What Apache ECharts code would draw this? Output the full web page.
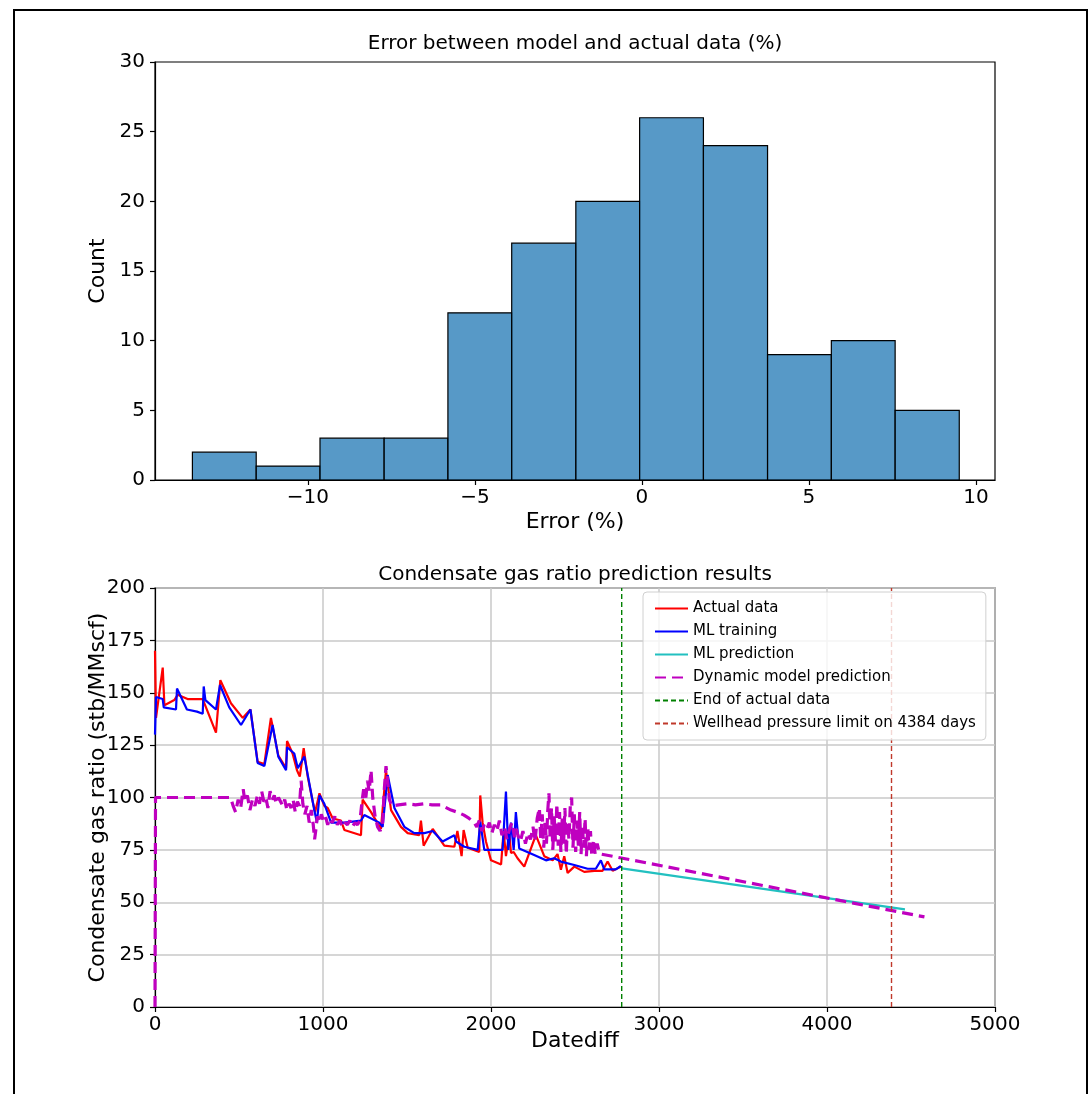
<!DOCTYPE html>
<html lang="en">

<head>
    <meta charset="UTF-8">
    <title>Error histogram and CGR prediction</title>
    <style>
        html,
        body {
            margin: 0;
            padding: 0;
            background: #fff;
        }

        #chart {
            width: 1092px;
            height: 1094px;
        }
    </style>
</head>

<body>
    <div id="chart"></div>
    <script src="https://cdn.jsdelivr.net/npm/echarts@6/dist/echarts.min.js"></script>
    <script type="text/javascript">
        // ---- histogram of model error (%) ----
        var errorBinEdges = [-13.46, -11.55, -9.64, -7.72, -5.81, -3.90, -1.98, -0.07, 1.84, 3.76, 5.67, 7.58, 9.50];
        var errorCounts = [2, 1, 3, 3, 12, 17, 20, 26, 24, 9, 10, 5];
        var errorTicks = [-10, -5, 0, 5, 10];

        // ---- condensate gas ratio, [Datediff, stb/MMscf] ----
        var actualData = [
            [0, 170], [6, 138], [46, 162], [56, 144], [115, 146.5], [135, 149], [194, 147], [284, 147],
            [363, 131], [389, 156], [452, 145], [522, 138], [568, 142], [611, 117], [651, 116], [690, 138],
            [734, 120], [780, 114], [786, 127], [819, 121], [845, 113], [862, 110], [885, 123.5], [909, 110],
            [939, 98], [953, 93], [979, 102], [1008, 96], [1028, 95], [1058, 90], [1107, 89], [1127, 84.5],
            [1226, 82], [1236, 99], [1286, 93], [1345, 85], [1375, 113], [1405, 94], [1464, 86], [1504, 83],
            [1573, 82], [1583, 89], [1599, 77], [1653, 85], [1722, 77], [1782, 76.5], [1800, 84], [1825, 72],
            [1837, 84.5], [1861, 76], [1930, 74], [1936, 101], [1950, 88], [1970, 79], [2000, 70], [2060, 68],
            [2075, 84], [2089, 72], [2109, 83], [2119, 73.5], [2135, 74], [2158, 71], [2198, 67], [2267, 82],
            [2317, 72], [2367, 70], [2396, 73], [2416, 65.5], [2436, 72], [2456, 64], [2496, 67], [2555, 64.5],
            [2615, 65], [2664, 65], [2694, 69.5], [2724, 65], [2773, 67]
        ];
        var mlTraining = [
            [0, 130], [6, 148], [46, 147], [52, 143], [125, 142], [131, 152], [190, 142], [250, 141], [284, 140],
            [290, 153], [300, 146.5], [363, 142], [387, 153.7], [442, 143], [512, 134.6], [568, 142], [611, 116.5],
            [651, 115], [700, 134.6], [734, 119.5], [780, 113], [786, 124], [829, 121], [850, 114], [889, 119.5],
            [948, 94], [964, 88], [979, 101], [1008, 97], [1048, 88], [1127, 88], [1226, 89], [1246, 91.6],
            [1335, 88], [1355, 86], [1385, 110.7], [1425, 95], [1484, 86], [1543, 83], [1603, 83], [1653, 84],
            [1712, 79], [1782, 82], [1792, 79], [1841, 76.5], [1921, 75], [1936, 88.5], [1960, 75], [2069, 75],
            [2089, 102.8], [2103, 75], [2119, 88], [2135, 75], [2148, 93], [2168, 75.7], [2257, 72.6], [2327, 70],
            [2376, 71], [2416, 69.4], [2496, 67.8], [2575, 66], [2624, 66], [2654, 70], [2674, 65.7], [2743, 65.7],
            [2773, 67.3]
        ];
        var mlPrediction = [[2778, 66.2], [4464, 46.6]];
        var dynamicModel = [
            [0, 0], [3, 100], [200, 100], [450, 100], [465, 96], [480, 93], [495, 99], [510, 95], [525, 104],
            [535, 98], [550, 101], [565, 94], [580, 99], [595, 96], [610, 101], [622, 97], [635, 103], [648, 98],
            [660, 100], [672, 95], [685, 103], [698, 99], [710, 101], [722, 97], [735, 100], [748, 98], [760, 96],
            [772, 99], [785, 94], [798, 97], [810, 95], [822, 99], [835, 93], [848, 98], [860, 96], [870, 108],
            [880, 97], [892, 92], [905, 96], [918, 88], [930, 94], [942, 87], [950, 80], [958, 85], [966, 91],
            [978, 88], [990, 92], [1002, 89], [1015, 91], [1028, 87], [1040, 90], [1055, 88], [1070, 91],
            [1085, 87], [1100, 89], [1115, 86], [1130, 88], [1145, 87], [1160, 89], [1175, 86], [1190, 88],
            [1205, 87], [1220, 89], [1232, 98], [1242, 104], [1255, 100], [1265, 108], [1275, 103], [1286, 113],
            [1296, 100], [1310, 91], [1325, 86], [1340, 84], [1355, 88], [1365, 104], [1375, 115], [1385, 108],
            [1395, 99], [1410, 96], [1450, 96.5], [1500, 97], [1550, 96.5], [1600, 97], [1650, 96.5], [1700, 96.5],
            [1762, 94], [1800, 93], [1839, 91.6], [1870, 90], [1900, 88], [1915, 86], [1930, 89], [1945, 84],
            [1960, 87], [1975, 85], [1990, 88], [2005, 83], [2020, 87], [2035, 84], [2050, 89], [2065, 82],
            [2080, 86], [2095, 80], [2110, 85], [2125, 88], [2140, 81], [2150, 85], [2160, 82], [2175, 79],
            [2190, 84], [2205, 78], [2220, 83], [2235, 80], [2250, 86], [2262, 79], [2275, 90], [2288, 95],
            [2296, 80], [2305, 92], [2314, 76], [2322, 89], [2330, 78], [2338, 94], [2345, 102], [2352, 80],
            [2360, 95], [2368, 75], [2376, 91], [2384, 79], [2392, 97], [2400, 77], [2408, 93], [2416, 74],
            [2424, 90], [2432, 78], [2440, 95], [2448, 73], [2456, 88], [2464, 80], [2472, 96], [2480, 100],
            [2488, 76], [2496, 92], [2504, 74], [2512, 89], [2520, 77], [2528, 93], [2536, 73], [2544, 87],
            [2552, 76], [2560, 90], [2568, 72], [2576, 86], [2584, 75], [2592, 84], [2600, 72], [2610, 80],
            [2620, 73], [2632, 78], [2644, 74], [2655, 73], [4580, 43]
        ];
        var endOfActualDay = 2778;
        var wellheadLimitDay = 4384;

        var FONT = 'DejaVu Sans';

        var histData = errorCounts.map(function (c, i) {
            return [errorBinEdges[i], errorBinEdges[i + 1], c];
        });

        function minusSign(v) {
            return v < 0 ? '\u2212' + Math.abs(v) : String(v);
        }

        var chart = echarts.init(document.getElementById('chart'), null, { renderer: 'canvas' });

        var lineSeries = function (name, data, color, width, dash) {
            return {
                name: name,
                type: 'line',
                xAxisIndex: 1,
                yAxisIndex: 1,
                data: data,
                symbol: 'none',
                silent: true,
                lineStyle: { color: color, width: width, type: dash || 'solid' },
                itemStyle: { color: color }
            };
        };

        var axisName = { fontFamily: FONT, fontSize: 22, color: '#000' };
        var tickFont = { fontFamily: FONT, fontSize: 20, color: '#000' };
        var blackLine = { color: '#000', width: 1.2 };

        var option = {
            animation: false,
            backgroundColor: '#fff',
            textStyle: { fontFamily: FONT },
            graphic: [{
                type: 'rect',
                shape: { x: 14, y: 10, width: 1073, height: 1100 },
                style: { fill: 'none', stroke: '#000', lineWidth: 2 },
                silent: true
            }],
            title: [
                {
                    text: 'Error between model and actual data (%)',
                    left: 575, top: 34, textAlign: 'center',
                    padding: 0,
                    textStyle: { fontFamily: FONT, fontSize: 20, fontWeight: 'normal', color: '#000' }
                },
                {
                    text: 'Condensate gas ratio prediction results',
                    left: 575, top: 565, textAlign: 'center',
                    padding: 0,
                    textStyle: { fontFamily: FONT, fontSize: 20, fontWeight: 'normal', color: '#000' }
                }
            ],
            legend: {
                left: 643, top: 592,
                orient: 'vertical',
                data: ['Actual data', 'ML training', 'ML prediction', 'Dynamic model prediction',
                    'End of actual data', 'Wellhead pressure limit on 4384 days'],
                itemWidth: 33, itemHeight: 14, itemGap: 8,
                padding: [9, 10, 9, 11],
                itemStyle: { opacity: 0 },
                backgroundColor: 'rgba(255,255,255,0.8)',
                borderColor: '#d0d0d0', borderWidth: 1, borderRadius: 4,
                textStyle: { fontFamily: FONT, fontSize: 15, color: '#000' },
                selectedMode: false
            },
            grid: [
                { left: 155, top: 62, width: 840, height: 418, show: true, borderColor: '#000', borderWidth: 1.2, backgroundColor: 'transparent' },
                { left: 155, top: 588, width: 840, height: 419, show: true, borderColor: '#000', borderWidth: 1.2, backgroundColor: 'transparent' }
            ],
            xAxis: [
                {
                    gridIndex: 0, type: 'value', min: -14.58, max: 10.57,
                    name: 'Error (%)', nameLocation: 'middle', nameGap: 31, nameMoveOverlap: false,
                    nameTextStyle: axisName,
                    axisLine: { onZero: false, lineStyle: blackLine },
                    axisTick: { customValues: errorTicks, length: 5, lineStyle: blackLine },
                    axisLabel: Object.assign({ customValues: errorTicks, formatter: minusSign, margin: 8 }, tickFont),
                    splitLine: { show: false }
                },
                {
                    gridIndex: 1, type: 'value', min: 0, max: 5000, interval: 1000,
                    name: 'Datediff', nameLocation: 'middle', nameGap: 23, nameMoveOverlap: false,
                    nameTextStyle: axisName,
                    axisLine: { onZero: false, lineStyle: blackLine },
                    axisTick: { length: 5, lineStyle: blackLine },
                    axisLabel: Object.assign({ formatter: function (v) { return String(v); }, margin: 8 }, tickFont),
                    splitLine: { show: true, lineStyle: { color: '#c8c8c8', width: 1.5 } }
                }
            ],
            yAxis: [
                {
                    gridIndex: 0, type: 'value', min: 0, max: 30, interval: 5,
                    name: 'Count', nameLocation: 'middle', nameGap: 46, nameMoveOverlap: false,
                    nameTextStyle: axisName,
                    axisLine: { show: true, onZero: false, lineStyle: blackLine },
                    axisTick: { show: true, length: 5, lineStyle: blackLine },
                    axisLabel: Object.assign({ margin: 10 }, tickFont),
                    splitLine: { show: false }
                },
                {
                    gridIndex: 1, type: 'value', min: 0, max: 200, interval: 25,
                    name: 'Condensate gas ratio (stb/MMscf)', nameLocation: 'middle', nameGap: 46, nameMoveOverlap: false,
                    nameTextStyle: axisName,
                    axisLine: { show: true, onZero: false, lineStyle: blackLine },
                    axisTick: { show: true, length: 5, lineStyle: blackLine },
                    axisLabel: Object.assign({ margin: 10 }, tickFont),
                    splitLine: { show: true, lineStyle: { color: '#c8c8c8', width: 1.5 } }
                }
            ],
            series: [
                {
                    name: 'errorHist',
                    type: 'custom',
                    xAxisIndex: 0,
                    yAxisIndex: 0,
                    silent: true,
                    data: histData,
                    encode: { x: [0, 1], y: 2 },
                    renderItem: function (params, api) {
                        var p0 = api.coord([api.value(0), api.value(2)]);
                        var p1 = api.coord([api.value(1), 0]);
                        return {
                            type: 'rect',
                            shape: { x: p0[0], y: p0[1], width: p1[0] - p0[0], height: p1[1] - p0[1] },
                            style: { fill: 'rgba(31,119,180,0.75)', stroke: '#000', lineWidth: 1.2 }
                        };
                    }
                },
                lineSeries('Actual data', actualData, '#ff0000', 2.2),
                lineSeries('ML training', mlTraining, '#0000ff', 2.2),
                lineSeries('ML prediction', mlPrediction, '#22c0c0', 2.2),
                lineSeries('Dynamic model prediction', dynamicModel, '#bf00bf', 3.2, [11, 6]),
                lineSeries('End of actual data', [[endOfActualDay, 0], [endOfActualDay, 200]], '#008000', 1.4, [5, 3]),
                lineSeries('Wellhead pressure limit on 4384 days', [[wellheadLimitDay, 0], [wellheadLimitDay, 200]], '#c0392b', 1.4, [5, 3])
            ]
        };

        chart.setOption(option);
    </script>
</body>

</html>
